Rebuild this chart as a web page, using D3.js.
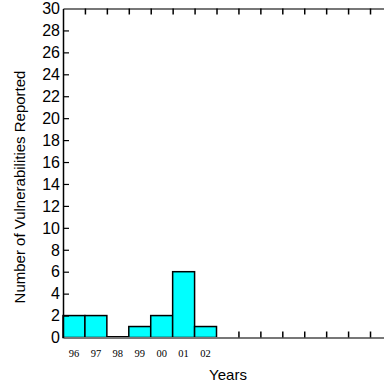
<!DOCTYPE html>
<html><head><meta charset="utf-8">
<script src="https://cdn.jsdelivr.net/npm/d3@7"></script>
<style>body{margin:0;background:#fff}</style>
</head><body><div id="chart"></div>
<script>
const years = ["96","97","98","99","00","01","02"];
const counts = [2, 2, 0, 1, 2, 6, 1];
const yTicks = d3.range(0, 31, 2);

const W = 384, H = 385;
const margin = {left: 63, top: 8.5, right: 0, bottom: 47.5};
const binW = 21.93;
const nBins = (W - margin.left) / binW;

const svg = d3.select("#chart").append("svg")
    .attr("width", W).attr("height", H)
    .style("font-family", "'Liberation Sans', Arial, sans-serif");

const x = d3.scaleLinear().domain([0, nBins]).range([margin.left, W - margin.right]);
const y = d3.scaleLinear().domain([0, 30]).range([H - margin.bottom, margin.top]);

// bars
svg.append("g").selectAll("rect")
    .data(counts)
    .enter().append("rect")
    .attr("x", (d, i) => x(i))
    .attr("y", d => y(d))
    .attr("width", x(1) - x(0))
    .attr("height", d => y(0) - y(d))
    .attr("fill", "#00ffff")
    .attr("stroke", "#000")
    .attr("stroke-width", 1.5);

// zero bar shows as a thick line
svg.append("g").selectAll("line")
    .data(counts.map((d, i) => [d, i]).filter(p => p[0] === 0))
    .enter().append("line")
    .attr("x1", p => x(p[1])).attr("x2", p => x(p[1] + 1))
    .attr("y1", y(0)).attr("y2", y(0))
    .attr("stroke", "#000").attr("stroke-width", 3);

// frame lines
const xTickVals = d3.range(1, Math.floor(nBins) + 1);
svg.append("g")
    .attr("transform", "translate(0," + y(30) + ")")
    .call(d3.axisBottom(x).tickValues(xTickVals).tickSize(6).tickSizeOuter(0).tickFormat(""))
    .call(g => g.select(".domain").attr("stroke", "#777").attr("stroke-width", 2))
    .call(g => g.selectAll(".tick line").attr("stroke", "#000").attr("stroke-width", 1.5));
svg.append("g")
    .attr("transform", "translate(0," + y(0) + ")")
    .call(d3.axisTop(x).tickValues(xTickVals.filter(v => v > counts.length)).tickSize(6).tickSizeOuter(0).tickFormat(""))
    .call(g => g.select(".domain").attr("stroke", "#777").attr("stroke-width", 2))
    .call(g => g.selectAll(".tick line").attr("stroke", "#000").attr("stroke-width", 1.5));

// y axis
svg.append("g")
    .attr("transform", "translate(" + margin.left + ",0)")
    .call(d3.axisRight(y).tickValues(yTicks.filter(v => v > 0 && v < 30)).tickSize(6).tickSizeOuter(0).tickFormat(""))
    .call(g => g.select(".domain").attr("stroke", "#000").attr("stroke-width", 1.5))
    .call(g => g.selectAll(".tick line").attr("stroke", "#000").attr("stroke-width", 1.2));
svg.append("g").selectAll("text")
    .data(yTicks)
    .enter().append("text")
    .attr("x", margin.left - 3)
    .attr("y", d => y(d))
    .attr("dy", "0.36em")
    .attr("text-anchor", "end")
    .style("font-size", "16px")
    .text(d => d);

// year labels
svg.append("g").selectAll("text")
    .data(years)
    .enter().append("text")
    .attr("x", (d, i) => x(i + 0.5))
    .attr("y", 357)
    .attr("text-anchor", "middle")
    .style("font-family", "'Liberation Serif', 'Times New Roman', serif")
    .style("font-size", "10.5px")
    .text(d => d);

svg.append("text")
    .attr("x", 228).attr("y", 380)
    .attr("text-anchor", "middle")
    .style("font-size", "15px")
    .text("Years");

svg.append("text")
    .attr("transform", "translate(25," + 187 + ") rotate(-90)")
    .attr("text-anchor", "middle")
    .style("font-size", "15px")
    .text("Number of Vulnerabilities Reported");
</script></body></html>
